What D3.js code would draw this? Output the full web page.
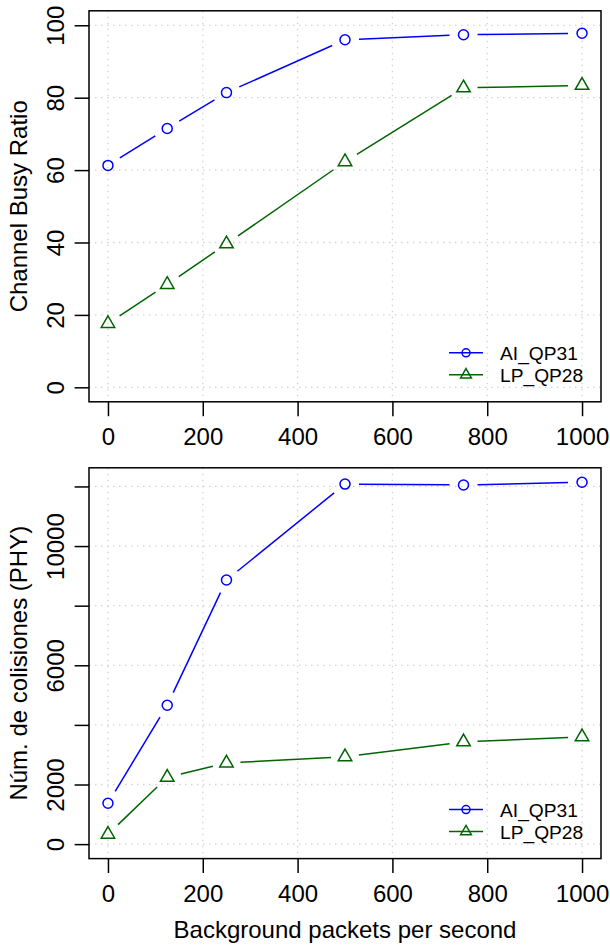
<!DOCTYPE html>
<html>
<head>
<meta charset="utf-8">
<script src="https://cdn.jsdelivr.net/npm/d3@7/dist/d3.min.js"></script>
<style>
  html, body { margin: 0; padding: 0; background: #ffffff; }
  svg { display: block; }
  text { font-family: "Liberation Sans", Arial, Helvetica, sans-serif; fill: #000; }
</style>
</head>
<body>
<div id="chart"></div>
<script>
// ---------------- data ----------------
const xValues = [0, 125, 250, 500, 750, 1000];
const seriesNames = ["AI_QP31", "LP_QP28"];
const seriesColors = ["#0000FF", "#006400"];
const seriesShapes = ["circle", "triangle"];

const busyAI = [61.3, 71.5, 81.4, 96.0, 97.4, 97.8];
const busyLP = [17.6, 28.4, 39.6, 62.3, 82.7, 83.4];

const collAI = [1370, 4660, 8860, 12080, 12050, 12140];
const collLP = [330, 2240, 2720, 2930, 3430, 3600];

const xTicks = [0, 200, 400, 600, 800, 1000];
const xTickLabels = ["0", "200", "400", "600", "800", "1000"];
const busyTicks = [0, 20, 40, 60, 80, 100];
const busyTickLabels = ["0", "20", "40", "60", "80", "100"];
const collTicks = [0, 2000, 4000, 6000, 8000, 10000, 12000];
const collTickLabels = ["0", "2000", "", "6000", "", "10000", ""];

const xTitle = "Background packets per second";
const busyTitle = "Channel Busy Ratio";
const collTitle = "Núm. de colisiones (PHY)";

// ---------------- layout ----------------
const W = 610, H = 947;
const FS = 24, LFS = 19.2;
const LW = 1.5;
const TICK = 14.4;
const SYM = 5;      // symbol radius
const GAP = 14;     // type="b" gap around points

const svg = d3.select("#chart").append("svg")
  .attr("width", W).attr("height", H)
  .attr("viewBox", `0 0 ${W} ${H}`);
svg.append("rect").attr("width", W).attr("height", H).attr("fill", "#fff");

function padDomain(lo, hi) {
  const d = (hi - lo) * 0.04;
  return [lo - d, hi + d];
}

function symbolPath(shape, r) {
  if (shape === "circle") {
    return `M${-r},0A${r},${r} 0 1,0 ${r},0A${r},${r} 0 1,0 ${-r},0Z`;
  }
  const top = 1.5551 * r, xc = 1.3468 * r, yc = 0.7776 * r;
  return `M0,${-top}L${xc},${yc}L${-xc},${yc}Z`;
}

function panel(opts) {
  const { left, right, top, bottom, yDomain, yTicks, yTickLabels, yTitle, series, showXTitle } = opts;
  const x = d3.scaleLinear().domain(padDomain(d3.min(xValues), d3.max(xValues))).range([left, right]);
  const y = d3.scaleLinear().domain(padDomain(yDomain[0], yDomain[1])).range([bottom, top]);
  const g = svg.append("g");

  // grid
  const grid = g.append("g").attr("stroke", "#d3d3d3").attr("stroke-width", 1.3)
    .attr("stroke-dasharray", "1.5,4.5").attr("fill", "none");
  xTicks.forEach(t => grid.append("line")
    .attr("x1", x(t)).attr("x2", x(t)).attr("y1", top).attr("y2", bottom));
  yTicks.forEach(t => grid.append("line")
    .attr("x1", left).attr("x2", right).attr("y1", y(t)).attr("y2", y(t)));

  // x axis
  const xa = g.append("g").attr("transform", `translate(0,${bottom})`)
    .call(d3.axisBottom(x).tickValues(xTicks)
      .tickFormat((d, i) => xTickLabels[i]).tickSize(TICK).tickPadding(11.6));
  xa.select(".domain").remove();
  xa.selectAll("line").attr("stroke", "#000").attr("stroke-width", LW);
  xa.selectAll("text").attr("font-size", FS).attr("fill", "#000")
    .style("font-family", '"Liberation Sans", Arial, sans-serif');

  // y axis
  const ya = g.append("g").attr("transform", `translate(${left},0)`)
    .call(d3.axisLeft(y).tickValues(yTicks)
      .tickFormat((d, i) => yTickLabels[i]).tickSize(TICK));
  ya.select(".domain").remove();
  ya.selectAll("line").attr("stroke", "#000").attr("stroke-width", LW);
  ya.selectAll("text")
    .attr("x", null).attr("dy", null)
    .attr("text-anchor", "middle")
    .attr("transform", "translate(-25,0) rotate(-90)")
    .attr("font-size", FS).attr("fill", "#000")
    .style("font-family", '"Liberation Sans", Arial, sans-serif');

  // box
  g.append("rect").attr("x", left).attr("y", top)
    .attr("width", right - left).attr("height", bottom - top)
    .attr("fill", "none").attr("stroke", "#000").attr("stroke-width", LW);

  // y title
  g.append("text")
    .attr("transform", `translate(${left - 62},${(top + bottom) / 2}) rotate(-90)`)
    .attr("text-anchor", "middle").attr("font-size", FS).text(yTitle);

  if (showXTitle) {
    g.append("text").attr("x", (left + right) / 2).attr("y", bottom + 79.6)
      .attr("text-anchor", "middle").attr("font-size", FS).text(xTitle);
  }

  // series: type "b" lines with gaps and open symbols
  series.forEach((vals, si) => {
    const col = seriesColors[si];
    const pts = vals.map((v, i) => [x(xValues[i]), y(v)]);
    const sg = g.append("g");
    for (let i = 0; i < pts.length - 1; i++) {
      const [x0, y0] = pts[i], [x1, y1] = pts[i + 1];
      const dx = x1 - x0, dy = y1 - y0, L = Math.hypot(dx, dy);
      if (L <= 2 * GAP) continue;
      const ux = dx / L, uy = dy / L;
      sg.append("line")
        .attr("x1", x0 + ux * GAP).attr("y1", y0 + uy * GAP)
        .attr("x2", x1 - ux * GAP).attr("y2", y1 - uy * GAP)
        .attr("stroke", col).attr("stroke-width", LW);
    }
    sg.selectAll("path.pt").data(pts).enter().append("path")
      .attr("class", "pt")
      .attr("transform", d => `translate(${d[0]},${d[1]})`)
      .attr("d", symbolPath(seriesShapes[si], SYM))
      .attr("fill", "none").attr("stroke", col).attr("stroke-width", LW);
  });

  // legend (bottom right, no box)
  const lg = g.append("g");
  seriesNames.forEach((name, si) => {
    const cy = bottom - 49 + si * 22;
    const col = seriesColors[si];
    lg.append("line").attr("x1", 449).attr("x2", 483).attr("y1", cy).attr("y2", cy)
      .attr("stroke", col).attr("stroke-width", LW);
    lg.append("path").attr("transform", `translate(466,${cy})`)
      .attr("d", symbolPath(seriesShapes[si], SYM * 0.8))
      .attr("fill", "none").attr("stroke", col).attr("stroke-width", LW);
    lg.append("text").attr("x", 500).attr("y", cy + 6.9)
      .attr("font-size", LFS).text(name);
  });
}

panel({
  left: 89, right: 601, top: 10.8, bottom: 401.8,
  yDomain: [0, 100],
  yTicks: busyTicks, yTickLabels: busyTickLabels, yTitle: busyTitle,
  series: [busyAI, busyLP], showXTitle: false
});

panel({
  left: 89, right: 601, top: 467.8, bottom: 858.6,
  yDomain: [0, d3.max(collAI.concat(collLP))],
  yTicks: collTicks, yTickLabels: collTickLabels, yTitle: collTitle,
  series: [collAI, collLP], showXTitle: true
});
</script>
</body>
</html>
